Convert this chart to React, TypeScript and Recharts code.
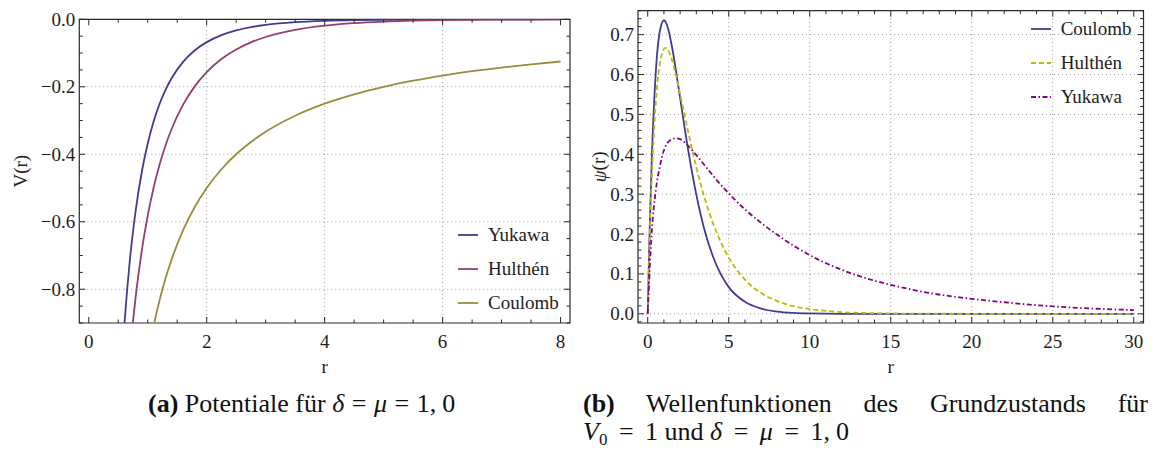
import React from 'react';
import { LineChart, Line, XAxis, YAxis, ReferenceLine, ReferenceArea, Legend } from 'recharts';

// (a) potentials V(r) for delta = mu = 1
const potR = [0.5, 0.6, 0.65, 0.7, 0.75, 0.8, 0.9, 1.0, 1.1, 1.2, 1.3, 1.4, 1.6, 1.8, 2.0, 2.25, 2.5, 2.75, 3, 3.5, 4, 4.5, 5, 5.5, 6, 6.5, 7, 7.5, 8];
const yukawaV = [-1.2131, -0.9147, -0.8032, -0.7094, -0.6298, -0.5617, -0.4517, -0.3679, -0.3026, -0.251, -0.2096, -0.1761, -0.1262, -0.0918, -0.0677, -0.0468, -0.0328, -0.0232, -0.0166, -0.0086, -0.0046, -0.0025, -0.0013, -0.0007, -0.0004, -0.0002, -0.0001, -0.0001, -0.00004];
const hulthenV = [-1.5415, -1.2164, -1.0923, -0.9864, -0.8953, -0.816, -0.6851, -0.582, -0.499, -0.431, -0.3746, -0.3273, -0.253, -0.198, -0.1565, -0.1178, -0.0894, -0.0683, -0.0524, -0.0311, -0.0187, -0.0112, -0.0068, -0.0041, -0.0025, -0.0015, -0.0009, -0.0006, -0.0003];
const coulombV = [-2, -1.6667, -1.5385, -1.4286, -1.3333, -1.25, -1.1111, -1, -0.9091, -0.8333, -0.7692, -0.7143, -0.625, -0.5556, -0.5, -0.4444, -0.4, -0.3636, -0.3333, -0.2857, -0.25, -0.2222, -0.2, -0.1818, -0.1667, -0.1538, -0.1429, -0.1333, -0.125];

// (b) ground state wave functions, V0 = 1, delta = mu = 1
const waveR = [0, 0.1, 0.25, 0.5, 0.75, 1, 1.1, 1.25, 1.5, 1.75, 2, 2.5, 3, 3.5, 4, 4.5, 5, 6, 7, 8, 9, 10, 12, 14, 15, 17, 20, 22, 25, 27, 30];
const coulombPsi = [0, 0.181, 0.389, 0.607, 0.709, 0.736, 0.732, 0.716, 0.669, 0.608, 0.541, 0.41, 0.299, 0.211, 0.147, 0.1, 0.067, 0.03, 0.013, 0.0054, 0.0022, 0.0009, 0.0001, 0, 0, 0, 0, 0, 0, 0, 0];
const hulthenPsi = [0, 0.157, 0.338, 0.531, 0.628, 0.664, 0.667, 0.662, 0.636, 0.597, 0.551, 0.456, 0.367, 0.292, 0.23, 0.181, 0.141, 0.086, 0.052, 0.032, 0.019, 0.012, 0.0043, 0.0016, 0.001, 0.0004, 0.0001, 0, 0, 0, 0];
const yukawaPsi = [0, 0.093, 0.205, 0.31, 0.37, 0.41, 0.42, 0.43, 0.438, 0.44, 0.438, 0.421, 0.398, 0.373, 0.348, 0.324, 0.302, 0.262, 0.228, 0.198, 0.171, 0.147, 0.11, 0.083, 0.0727, 0.055, 0.0376, 0.029, 0.0187, 0.0141, 0.0093];

// tick labels / grid positions
const potXMajor = [0, 2, 4, 6, 8];
const potYMajor = [-0.8, -0.6, -0.4, -0.2, 0];
const waveXMajor = [0, 5, 10, 15, 20, 25, 30];
const waveYMajor = [0, 0.1, 0.2, 0.3, 0.4, 0.5, 0.6, 0.7];

const potData = potR.map((r, i) => ({ r, yukawa: yukawaV[i], hulthen: hulthenV[i], coulomb: coulombV[i] }));
const waveData = waveR.map((r, i) => ({ r, coulomb: coulombPsi[i], hulthen: hulthenPsi[i], yukawa: yukawaPsi[i] }));

const SERIF = "'Liberation Serif', Tinos, 'DejaVu Serif', serif";
const FRAME = '#2a2a2a';
const GRID = '#9a9a9a';
const TEXT = '#1e1e1e';

const potSeries = [
  { key: 'yukawa', name: 'Yukawa', color: '#3d3d99', dash: undefined as string | undefined },
  { key: 'hulthen', name: 'Hulthén', color: '#993d71', dash: undefined as string | undefined },
  { key: 'coulomb', name: 'Coulomb', color: '#998c3d', dash: undefined as string | undefined },
];
const waveSeries = [
  { key: 'coulomb', name: 'Coulomb', color: '#3d3d99', dash: undefined as string | undefined },
  { key: 'hulthen', name: 'Hulthén', color: '#bcbc00', dash: '5 3' },
  { key: 'yukawa', name: 'Yukawa', color: '#880088', dash: '5 2.5 1.5 2.5' },
];

const range = (from: number, to: number, step: number) => {
  const out: number[] = [];
  for (let k = Math.ceil(from / step - 1e-9); k * step <= to + 1e-9; k++) out.push(+(k * step).toFixed(6));
  return out;
};

type Panel = {
  width: number; height: number;
  margin: { top: number; right: number; bottom: number; left: number };
  yAxisWidth: number; xAxisHeight: number;
};
const plotW = (p: Panel) => p.width - p.margin.left - p.margin.right - p.yAxisWidth;
const plotH = (p: Panel) => p.height - p.margin.top - p.margin.bottom - p.xAxisHeight;

const potPanel: Panel = { width: 580, height: 380, margin: { top: 19.3, right: 10, bottom: 7, left: 9.3 }, yAxisWidth: 70, xAxisHeight: 50 };
const wavePanel: Panel = { width: 577, height: 380, margin: { top: 10.7, right: 13.5, bottom: 7, left: 8 }, yAxisWidth: 50, xAxisHeight: 50 };

const isMajor = (v: number, majors: number[]) => majors.some((m) => Math.abs(m - v) < 1e-6);

// frame ticks point inwards and are mirrored on the opposite side
const xTick = (majors: number[], span: number, fmt: (v: number) => string) => (props: any) => {
  const { x, y, payload } = props;
  const v = payload.value as number;
  const major = isMajor(v, majors);
  const len = major ? 6 : 3.5;
  return (
    <g>
      <line x1={x} y1={y} x2={x} y2={y - len} stroke={FRAME} strokeWidth={1} />
      <line x1={x} y1={y - span} x2={x} y2={y - span + len} stroke={FRAME} strokeWidth={1} />
      {major && (
        <text x={x} y={y + 18} textAnchor="middle" dominantBaseline="central" fontFamily={SERIF} fontSize={19} fill={TEXT}>
          {fmt(v)}
        </text>
      )}
    </g>
  );
};

const yTick = (majors: number[], span: number, fmt: (v: number) => string) => (props: any) => {
  const { x, y, payload } = props;
  const v = payload.value as number;
  const major = isMajor(v, majors);
  const len = major ? 6 : 3.5;
  return (
    <g>
      <line x1={x} y1={y} x2={x + len} y2={y} stroke={FRAME} strokeWidth={1} />
      <line x1={x + span} y1={y} x2={x + span - len} y2={y} stroke={FRAME} strokeWidth={1} />
      {major && (
        <text x={x - 4} y={y} textAnchor="end" dominantBaseline="central" fontFamily={SERIF} fontSize={19} fill={TEXT}>
          {fmt(v)}
        </text>
      )}
    </g>
  );
};

const yTitle = (text: React.ReactNode) => (props: any) => {
  const vb = props.viewBox;
  const cx = vb.x + 11;
  const cy = vb.y + vb.height / 2;
  return (
    <text x={cx} y={cy} transform={`rotate(-90, ${cx}, ${cy})`} textAnchor="middle" dominantBaseline="central" fontFamily={SERIF} fontSize={19} fill={TEXT}>
      {text}
    </text>
  );
};

const xTitle = (text: string) => (props: any) => {
  const vb = props.viewBox;
  return (
    <text x={vb.x + vb.width / 2} y={vb.y + 43} textAnchor="middle" dominantBaseline="central" fontFamily={SERIF} fontSize={19} fill={TEXT}>
      {text}
    </text>
  );
};

function LegendBox({ items }: { items: typeof potSeries }) {
  return (
    <div style={{ fontFamily: SERIF, fontSize: 19, color: TEXT }}>
      {items.map((s) => (
        <div key={s.key} style={{ display: 'flex', alignItems: 'center', height: 34 }}>
          <svg width={20} height={4} style={{ display: 'block' }}>
            <line x1={0} y1={2} x2={20} y2={2} stroke={s.color} strokeWidth={1.8} strokeDasharray={s.dash} />
          </svg>
          <span style={{ marginLeft: 10 }}>{s.name}</span>
        </div>
      ))}
    </div>
  );
}

const fmtPotX = (v: number) => String(v);
const fmtPotY = (v: number) => (v === 0 ? '0.0' : '\u2212' + Math.abs(v).toFixed(1));
const fmtWaveX = (v: number) => String(v);
const fmtWaveY = (v: number) => v.toFixed(1);

function PotentialChart() {
  const xDomain = [-0.16, 8.16];
  const yDomain = [-0.9, 0];
  return (
    <LineChart width={potPanel.width} height={potPanel.height} data={potData} margin={potPanel.margin}>
      <XAxis
        dataKey="r" type="number" domain={xDomain} allowDataOverflow ticks={range(0, 8, 0.5)} interval={0}
        tick={xTick(potXMajor, plotH(potPanel), fmtPotX)} tickLine={false} tickSize={0} tickMargin={0}
        axisLine={false} height={potPanel.xAxisHeight} label={xTitle('r')}
      />
      <YAxis
        type="number" domain={yDomain} allowDataOverflow ticks={range(-0.9, 0, 0.05)} interval={0}
        tick={yTick(potYMajor, plotW(potPanel), fmtPotY)} tickLine={false} tickSize={0} tickMargin={0}
        axisLine={false} width={potPanel.yAxisWidth} label={yTitle('V(r)')}
      />
      {potXMajor.filter((v) => v > 0 && v < 8).map((v) => (
        <ReferenceLine key={`gx${v}`} x={v} stroke={GRID} strokeDasharray="1 3" />
      ))}
      {potYMajor.filter((v) => v < 0).map((v) => (
        <ReferenceLine key={`gy${v}`} y={v} stroke={GRID} strokeDasharray="1 3" />
      ))}
      <ReferenceArea x1={xDomain[0]} x2={xDomain[1]} y1={yDomain[0]} y2={yDomain[1]} fill="none" stroke={FRAME} strokeWidth={1.2} ifOverflow="visible" />
      {potSeries.map((s) => (
        <Line key={s.key} dataKey={s.key} name={s.name} type="monotone" stroke={s.color} strokeWidth={1.8} dot={false} activeDot={false} isAnimationActive={false} />
      ))}
      <Legend layout="vertical" align="center" verticalAlign="middle" content={() => <LegendBox items={potSeries} />} wrapperStyle={{ left: 458, top: 218, width: 120 }} />
    </LineChart>
  );
}

function WaveChart() {
  const xDomain = [-0.6, 30.6];
  const yDomain = [-0.023, 0.76];
  return (
    <LineChart width={wavePanel.width} height={wavePanel.height} data={waveData} margin={wavePanel.margin}>
      <XAxis
        dataKey="r" type="number" domain={xDomain} allowDataOverflow ticks={range(0, 30, 1)} interval={0}
        tick={xTick(waveXMajor, plotH(wavePanel), fmtWaveX)} tickLine={false} tickSize={0} tickMargin={0}
        axisLine={false} height={wavePanel.xAxisHeight} label={xTitle('r')}
      />
      <YAxis
        type="number" domain={yDomain} allowDataOverflow ticks={range(-0.02, 0.76, 0.02)} interval={0}
        tick={yTick(waveYMajor, plotW(wavePanel), fmtWaveY)} tickLine={false} tickSize={0} tickMargin={0}
        axisLine={false} width={wavePanel.yAxisWidth}
        label={yTitle(<><tspan fontStyle="italic">ψ</tspan>(r)</>)}
      />
      {waveXMajor.filter((v) => v > 0 && v < 30).map((v) => (
        <ReferenceLine key={`gx${v}`} x={v} stroke={GRID} strokeDasharray="1 3" />
      ))}
      {waveYMajor.map((v) => (
        <ReferenceLine key={`gy${v}`} y={v} stroke={GRID} strokeDasharray="1 3" />
      ))}
      <ReferenceArea x1={xDomain[0]} x2={xDomain[1]} y1={yDomain[0]} y2={yDomain[1]} fill="none" stroke={FRAME} strokeWidth={1.2} ifOverflow="visible" />
      {waveSeries.map((s) => (
        <Line key={s.key} dataKey={s.key} name={s.name} type="monotone" stroke={s.color} strokeWidth={1.8} strokeDasharray={s.dash} dot={false} activeDot={false} isAnimationActive={false} />
      ))}
      <Legend layout="vertical" align="center" verticalAlign="middle" content={() => <LegendBox items={waveSeries} />} wrapperStyle={{ left: 450.7, top: 12, width: 120 }} />
    </LineChart>
  );
}

// relation sign with math-style spacing
const Eq = ({ gap }: { gap: number }) => <span style={{ margin: `0 ${gap}px` }}>=</span>;

export default function App() {
  const caption: React.CSSProperties = { position: 'absolute', fontFamily: SERIF, fontSize: 26, color: '#111', whiteSpace: 'nowrap', lineHeight: '30px' };
  const sub: React.CSSProperties = { fontSize: 17, position: 'relative', top: 5 };
  return (
    <div style={{ position: 'absolute', left: 0, top: 0, width: 1157, height: 450, background: '#fff', overflow: 'hidden' }}>
      <div style={{ position: 'absolute', left: 0, top: 0 }}>
        <PotentialChart />
      </div>
      <div style={{ position: 'absolute', left: 580, top: 0 }}>
        <WaveChart />
      </div>
      <div style={{ ...caption, left: 148, top: 389 }}>
        <b>(a)</b> Potentiale für <i>δ</i> <Eq gap={1} /> <i>μ</i> <Eq gap={1} /> 1<span style={{ marginRight: 6 }}>,</span>0
      </div>
      <div style={{ ...caption, left: 583, top: 389, width: 565, textAlign: 'justify', textAlignLast: 'justify' }}>
        <b>(b)</b> Wellenfunktionen des Grundzustands für
      </div>
      <div style={{ ...caption, left: 583, top: 417 }}>
        <i>V</i><span style={sub}>0</span> <Eq gap={5} /> 1 und <i>δ</i> <Eq gap={5} /> <i>μ</i> <Eq gap={5} /> 1<span style={{ marginRight: 6 }}>,</span>0
      </div>
    </div>
  );
}
